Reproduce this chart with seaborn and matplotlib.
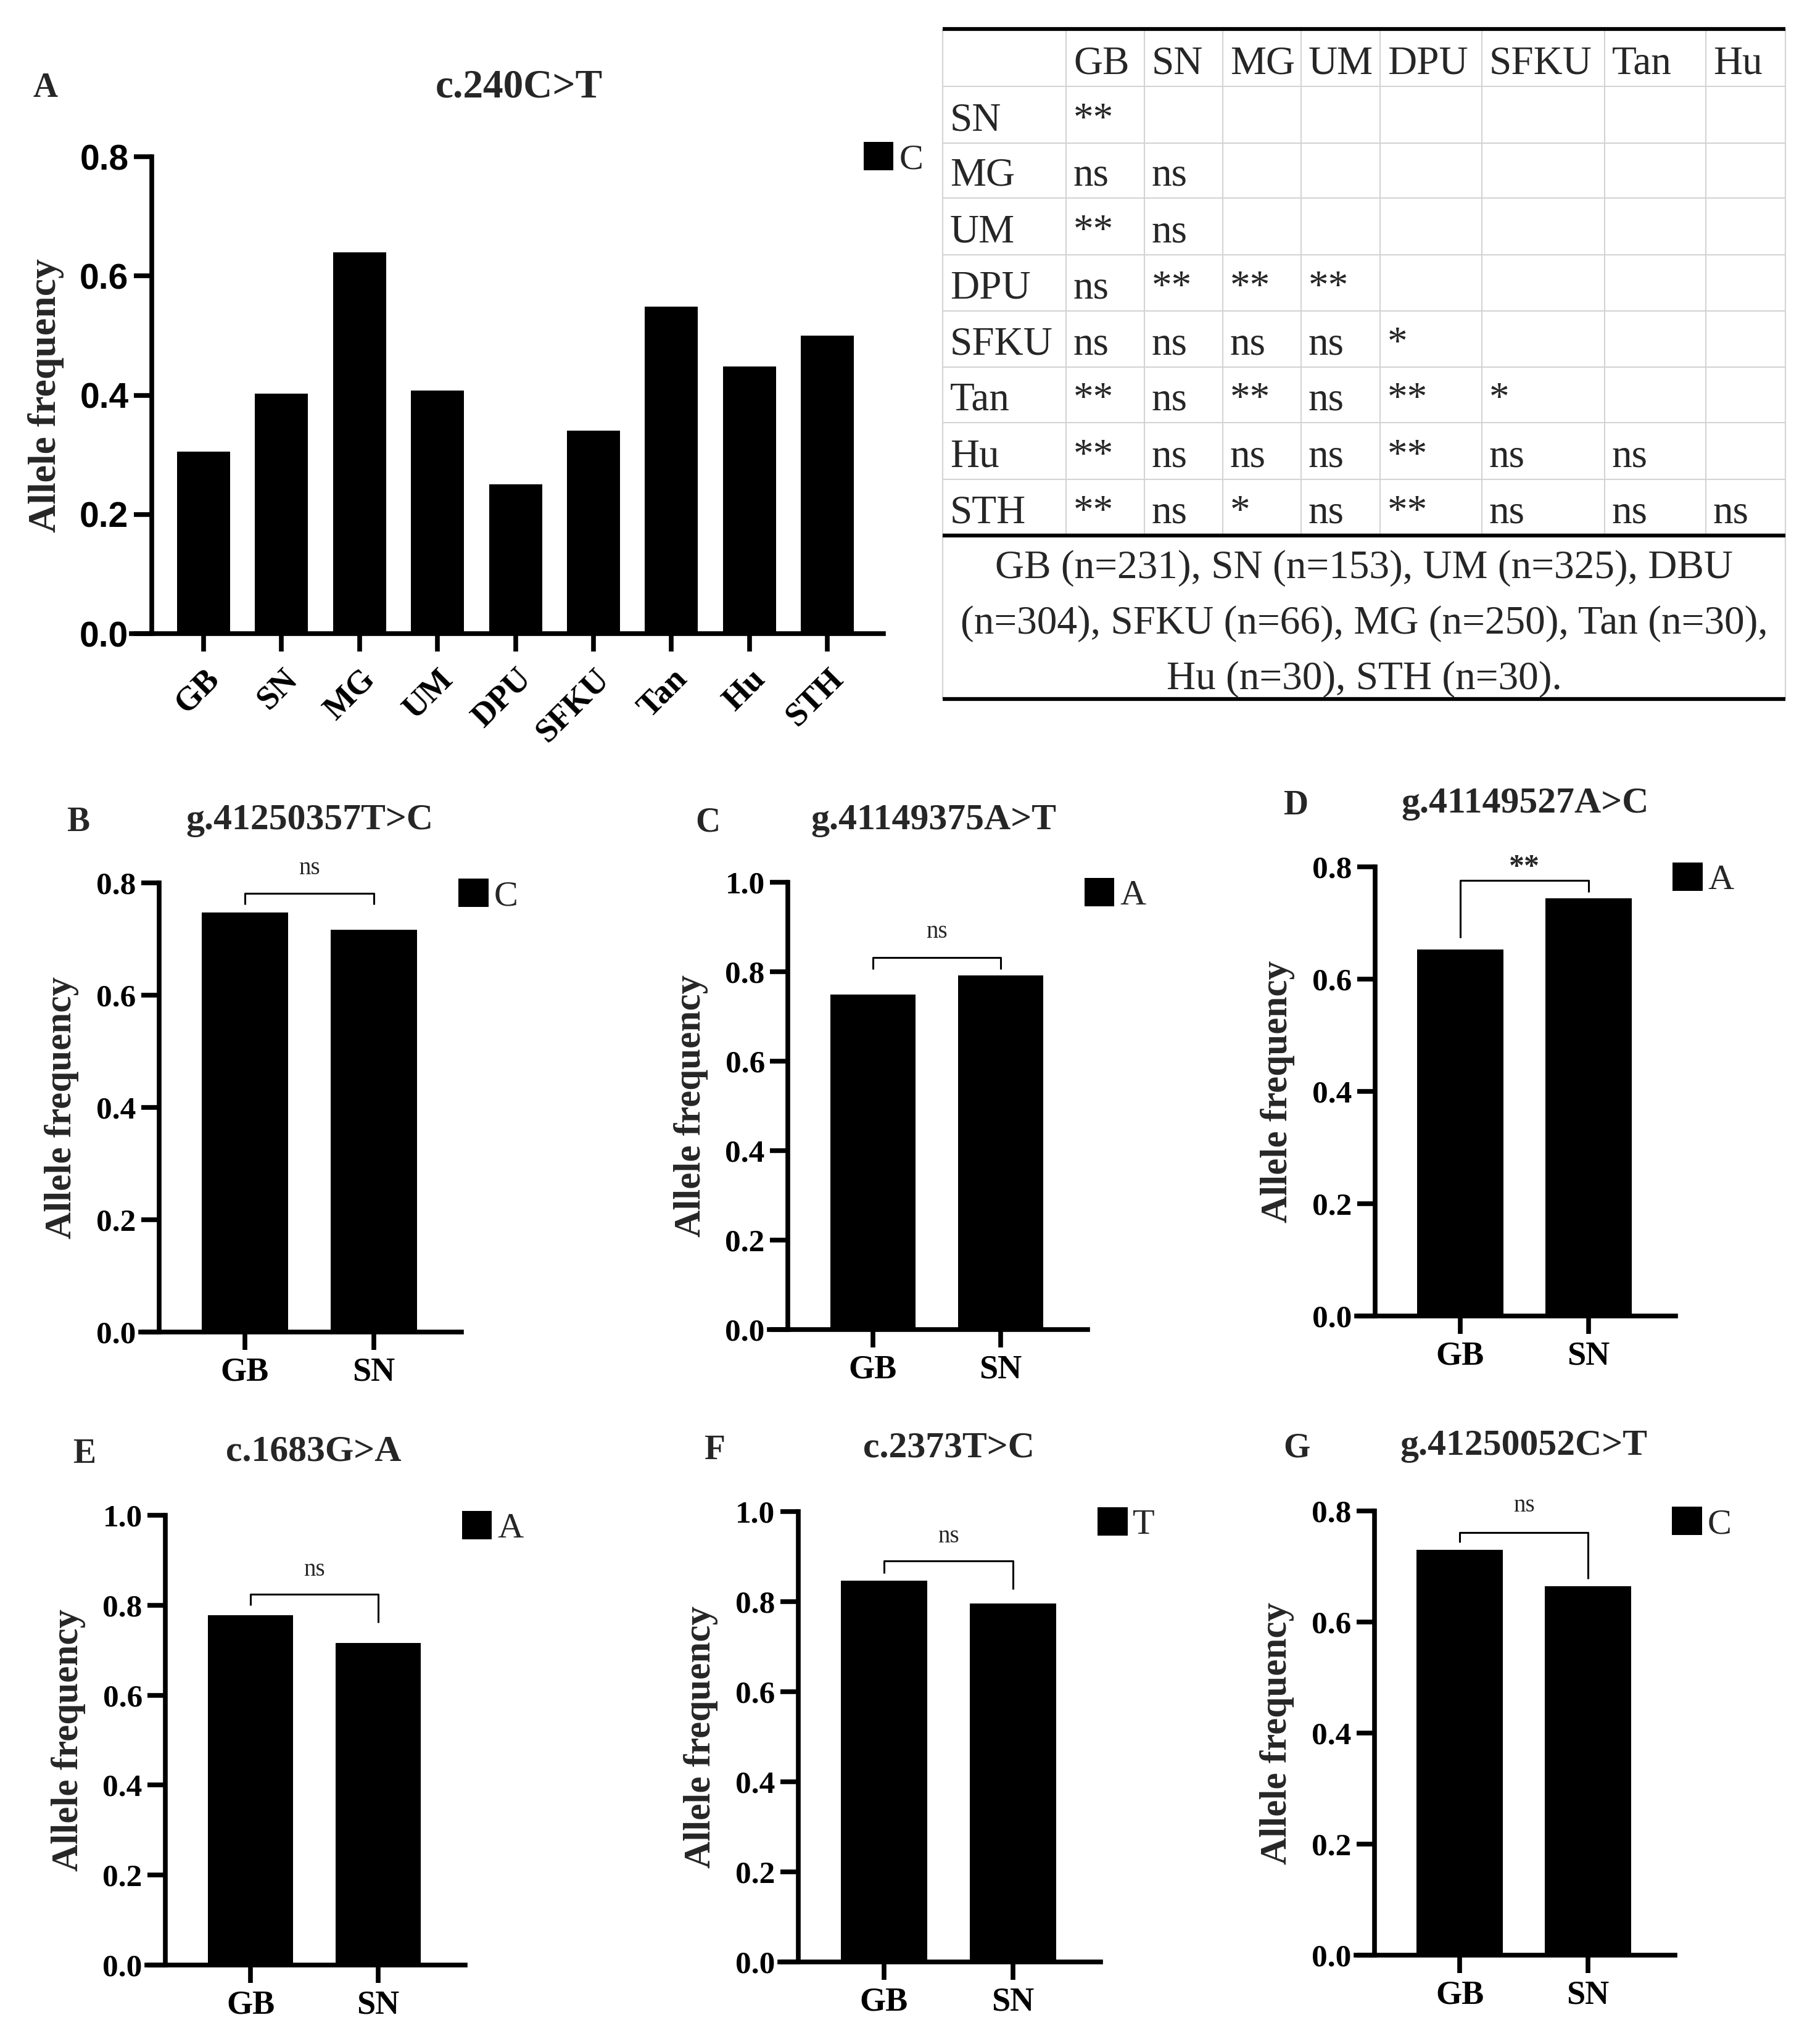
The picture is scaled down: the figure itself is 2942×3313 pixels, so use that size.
import numpy as np
import seaborn as sns
import matplotlib.pyplot as plt
from matplotlib.patches import Patch

W, H = 2942, 3313
SERIF = "Liberation Serif"
SANS = "Liberation Sans"

# panel A: c.240C>T across populations
pops_a = ["GB", "SN", "MG", "UM", "DPU", "SFKU", "Tan", "Hu", "STH"]
freq_a = [0.305, 0.403, 0.640, 0.408, 0.250, 0.340, 0.548, 0.448, 0.500]

# panels B-G: GB vs SN
pops = ["GB", "SN"]
letters = ["B", "C", "D", "E", "F", "G"]
titles = ["g.41250357T>C", "g.41149375A>T", "g.41149527A>C",
          "c.1683G>A", "c.2373T>C", "g.41250052C>T"]
alleles = ["C", "A", "A", "A", "T", "C"]
freq_gb = [0.747, 0.749, 0.653, 0.778, 0.847, 0.730]
freq_sn = [0.716, 0.792, 0.744, 0.716, 0.796, 0.664]
sig = ["ns", "ns", "**", "ns", "ns", "ns"]
bracket_top = [0.781, 0.832, 0.776, 0.824, 0.891, 0.761]
leg_gb = [0.761, 0.806, 0.674, 0.800, 0.863, 0.743]
leg_sn = [0.761, 0.806, 0.755, 0.761, 0.827, 0.678]
sig_y = [0.826, 0.889, 0.818, 0.879, 0.945, 0.809]
ymax = [0.8, 1.0, 0.8, 1.0, 1.0, 0.8]

# pairwise significance table
tab_cols = ["GB", "SN", "MG", "UM", "DPU", "SFKU", "Tan", "Hu"]
tab_rows = ["SN", "MG", "UM", "DPU", "SFKU", "Tan", "Hu", "STH"]
tab_vals = [
    ["**"],
    ["ns", "ns"],
    ["**", "ns"],
    ["ns", "**", "**", "**"],
    ["ns", "ns", "ns", "ns", "*"],
    ["**", "ns", "**", "ns", "**", "*"],
    ["**", "ns", "ns", "ns", "**", "ns", "ns"],
    ["**", "ns", "*", "ns", "**", "ns", "ns", "ns"],
]
tab_note = ["GB (n=231), SN (n=153), UM (n=325), DBU",
            "(n=304), SFKU (n=66), MG (n=250), Tan (n=30),",
            "Hu (n=30), STH (n=30)."]

sns.set_style("ticks")
plt.rcParams["font.family"] = [SERIF, "DejaVu Serif"]
plt.rcParams["axes.linewidth"] = 5.5

fig = plt.figure(figsize=(W / 100, H / 100), dpi=100)
LW = 5.5


def add_panel(c0, step, zero, top, lo, hi):
    left = c0 + lo * step
    right = c0 + hi * step
    return fig.add_axes([left / W, 1 - zero / H, (right - left) / W, (zero - top) / H])


def style(ax, xlim, spine_x, top, yticks, tick_family, tick_size):
    ax.set_xlim(*xlim)
    ax.set_ylim(0, top)
    ax.spines["top"].set_visible(False)
    ax.spines["right"].set_visible(False)
    ax.spines["left"].set_position(("data", spine_x))
    for s in ("left", "bottom"):
        ax.spines[s].set_linewidth(LW)
        ax.spines[s].set_color("black")
    ax.set_yticks(yticks)
    ax.set_yticklabels([f"{t:.1f}" for t in yticks], family=tick_family,
                       fontweight="bold", fontsize=tick_size)
    ax.tick_params(axis="both", length=21, width=LW, colors="black", direction="out")
    ax.tick_params(axis="y", pad=6)
    ax.tick_params(axis="x", pad=8)
    ax.set_ylabel("Allele frequency", fontsize=44, fontweight="bold", labelpad=20)
    ax.set_xlabel("")


def px_text(x, y, s, **kw):
    fig.text(x / W, 1 - y / H, s, va="baseline", **kw)


def add_key(ax, allele, sq_left, sq_top, left, right, zero, top):
    fx = (sq_left - left) / (right - left)
    fy = (zero - (sq_top - 7)) / (zero - top)
    ax.legend(handles=[Patch(facecolor="black", edgecolor="none", label=allele)],
              loc="upper left", bbox_to_anchor=(fx, fy), frameon=False,
              borderpad=0, borderaxespad=0, handlelength=0.83, handleheight=0.83,
              handletextpad=0.15, prop={"family": SERIF, "size": 42})


# ---- panel A ----
a_c0, a_step, a_zero, a_top = 330, 126.4, 1027, 254
a_lo, a_hi = -0.926, 8.718
ax = add_panel(a_c0, a_step, a_zero, a_top, a_lo, a_hi)
sns.barplot(x=pops_a, y=freq_a, color="black", saturation=1, width=0.68,
            errorbar=None, linewidth=0, ax=ax)
style(ax, (a_lo, a_hi), -0.665, 0.8, [0, 0.2, 0.4, 0.6, 0.8], SANS, 41)
ax.set_xticks(range(len(pops_a)))
ax.set_xticklabels(pops_a, rotation=45, ha="right", va="top", rotation_mode="anchor",
                   fontweight="bold", fontsize=39)
ax.tick_params(axis="x", pad=14)
ax.set_ylabel("Allele frequency", fontsize=46, fontweight="bold", labelpad=18)
add_key(ax, "C", 1400, 237, a_c0 + a_lo * a_step, a_c0 + a_hi * a_step, a_zero, a_top)
px_text(53, 157, "A", fontsize=40, fontweight="bold")
px_text(841, 157, "c.240C>T", fontsize=47, fontweight="bold", ha="center")

# ---- panels B-G ----
geom = [(397, 209, 2159, 1431), (1415, 207, 2155, 1430), (2367, 208, 2133, 1405),
        (406, 207, 3185, 2456), (1433, 209, 3180, 2450), (2366, 208, 3169, 2449)]
letter_pos = [(108, 1347), (1127, 1347), (2080, 1320), (118, 2371), (1142, 2365), (2080, 2361)]
title_pos = [(502, 1344), (1513, 1344), (2472, 1317), (508, 2368), (1538, 2361), (2470, 2358)]
lo, hi = -0.81, 1.68

for i in range(6):
    c0, step, zero, top = geom[i]
    ax = add_panel(c0, step, zero, top, lo, hi)
    sns.barplot(x=pops, y=[freq_gb[i], freq_sn[i]], color="black", saturation=1,
                width=0.67, errorbar=None, linewidth=0, ax=ax)
    yt = list(np.round(np.arange(0, ymax[i] + 0.01, 0.2), 1))
    style(ax, (lo, hi), -0.665, ymax[i], yt, SERIF, 37)
    ax.set_xticks([0, 1])
    ax.set_xticklabels(pops, fontweight="bold", fontsize=39)
    # significance bracket
    ax.plot([0, 0, 1, 1], [leg_gb[i], bracket_top[i], bracket_top[i], leg_sn[i]],
            color="black", lw=2.2, solid_capstyle="butt", clip_on=False)
    if sig[i] == "ns":
        ax.text(0.5, sig_y[i], "ns", ha="center", va="center", fontsize=28)
    else:
        ax.text(0.5, sig_y[i] - 0.02, sig[i], ha="center", va="center",
                fontsize=36, fontweight="bold")
    add_key(ax, alleles[i], c0 + (hi * step) - 5, top, c0 + lo * step, c0 + hi * step, zero, top)
    px_text(*letter_pos[i], letters[i], fontsize=40, fontweight="bold")
    px_text(*title_pos[i], titles[i], fontsize=43, fontweight="bold", ha="center")

# ---- table ----
tax = fig.add_axes([0, 0, 1, 1])
tax.set_xlim(0, W)
tax.set_ylim(H, 0)
tax.axis("off")
tax.patch.set_alpha(0)

col_edges = [1528, 1728, 1855, 1982, 2109, 2237, 2402, 2601, 2765, 2894]
row_edges = [47, 140, 232, 321, 413, 504, 595, 685, 777, 868]
note_bottom = 1133
grey = "#d3d3d3"

for y in row_edges[1:-1]:
    tax.hlines(y, col_edges[0], col_edges[-1], color=grey, lw=1.5)
for x in col_edges[1:-1]:
    tax.vlines(x, row_edges[0], row_edges[-1], color=grey, lw=1.5)
for x in (col_edges[0], col_edges[-1]):
    tax.vlines(x, row_edges[0], note_bottom, color=grey, lw=1.5)
for y in (row_edges[0], row_edges[-1], note_bottom):
    tax.hlines(y, col_edges[0], col_edges[-1], color="black", lw=4.5)

pad = 12
fs_tab = 47
for j, c in enumerate(tab_cols):
    tax.text(col_edges[j + 1] + pad, row_edges[1] - 21, c, fontsize=fs_tab, va="baseline")
for r, name in enumerate(tab_rows):
    base = row_edges[r + 2] - 21
    tax.text(col_edges[0] + pad, base, name, fontsize=fs_tab, va="baseline")
    for j, v in enumerate(tab_vals[r]):
        tax.text(col_edges[j + 1] + pad, base, v, fontsize=fs_tab, va="baseline")

note_base = [937, 1027, 1117]
for line, yb in zip(tab_note, note_base):
    tax.text((col_edges[0] + col_edges[-1]) / 2, yb, line, fontsize=fs_tab,
             ha="center", va="baseline")

fig.savefig("out.png", dpi=100)
